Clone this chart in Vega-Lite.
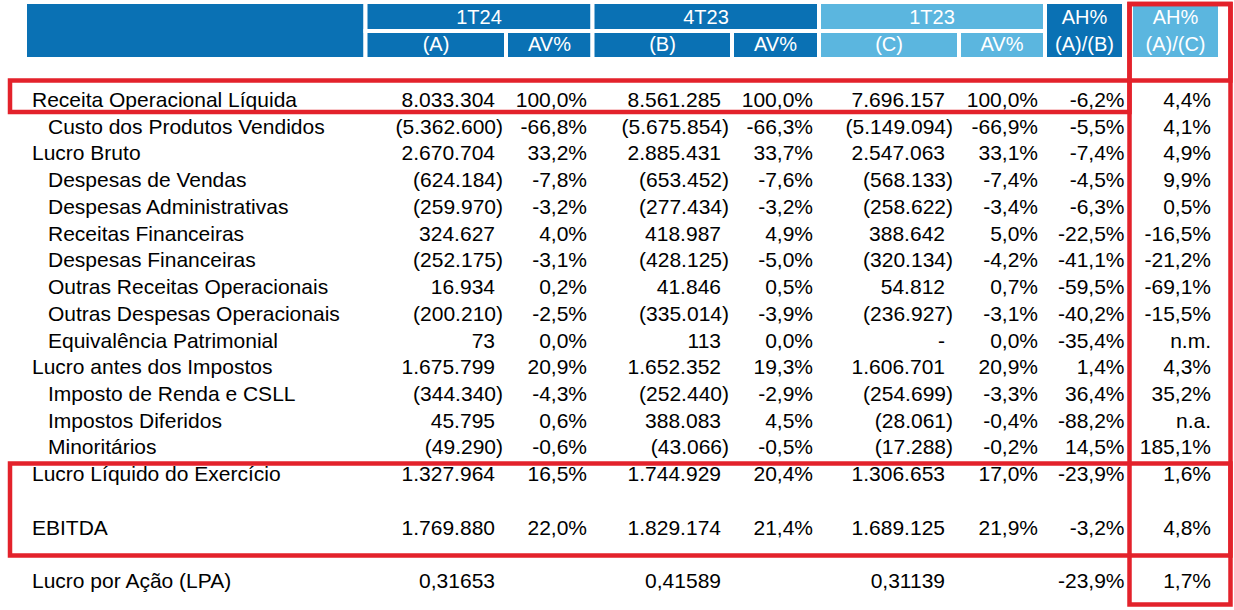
{
  "$schema": "https://vega.github.io/schema/vega-lite/v6.json",
  "width": 1234,
  "height": 610,
  "padding": 0,
  "autosize": {"type": "none"},
  "background": "white",
  "config": {"view": {"stroke": null}, "text": {"font": "Liberation Sans"}},
  "datasets": {
    "rows": [
      {"row": 0, "level": 0, "label": "Receita Operacional Líquida", "A": "8.033.304", "AVA": "100,0%", "B": "8.561.285", "AVB": "100,0%", "C": "7.696.157", "AVC": "100,0%", "AHAB": "-6,2%", "AHAC": "4,4%"},
      {"row": 1, "level": 1, "label": "Custo dos Produtos Vendidos", "A": "(5.362.600)", "AVA": "-66,8%", "B": "(5.675.854)", "AVB": "-66,3%", "C": "(5.149.094)", "AVC": "-66,9%", "AHAB": "-5,5%", "AHAC": "4,1%"},
      {"row": 2, "level": 0, "label": "Lucro Bruto", "A": "2.670.704", "AVA": "33,2%", "B": "2.885.431", "AVB": "33,7%", "C": "2.547.063", "AVC": "33,1%", "AHAB": "-7,4%", "AHAC": "4,9%"},
      {"row": 3, "level": 1, "label": "Despesas de Vendas", "A": "(624.184)", "AVA": "-7,8%", "B": "(653.452)", "AVB": "-7,6%", "C": "(568.133)", "AVC": "-7,4%", "AHAB": "-4,5%", "AHAC": "9,9%"},
      {"row": 4, "level": 1, "label": "Despesas Administrativas", "A": "(259.970)", "AVA": "-3,2%", "B": "(277.434)", "AVB": "-3,2%", "C": "(258.622)", "AVC": "-3,4%", "AHAB": "-6,3%", "AHAC": "0,5%"},
      {"row": 5, "level": 1, "label": "Receitas Financeiras", "A": "324.627", "AVA": "4,0%", "B": "418.987", "AVB": "4,9%", "C": "388.642", "AVC": "5,0%", "AHAB": "-22,5%", "AHAC": "-16,5%"},
      {"row": 6, "level": 1, "label": "Despesas Financeiras", "A": "(252.175)", "AVA": "-3,1%", "B": "(428.125)", "AVB": "-5,0%", "C": "(320.134)", "AVC": "-4,2%", "AHAB": "-41,1%", "AHAC": "-21,2%"},
      {"row": 7, "level": 1, "label": "Outras Receitas Operacionais", "A": "16.934", "AVA": "0,2%", "B": "41.846", "AVB": "0,5%", "C": "54.812", "AVC": "0,7%", "AHAB": "-59,5%", "AHAC": "-69,1%"},
      {"row": 8, "level": 1, "label": "Outras Despesas Operacionais", "A": "(200.210)", "AVA": "-2,5%", "B": "(335.014)", "AVB": "-3,9%", "C": "(236.927)", "AVC": "-3,1%", "AHAB": "-40,2%", "AHAC": "-15,5%"},
      {"row": 9, "level": 1, "label": "Equivalência Patrimonial", "A": "73", "AVA": "0,0%", "B": "113", "AVB": "0,0%", "C": "-", "AVC": "0,0%", "AHAB": "-35,4%", "AHAC": "n.m."},
      {"row": 10, "level": 0, "label": "Lucro antes dos Impostos", "A": "1.675.799", "AVA": "20,9%", "B": "1.652.352", "AVB": "19,3%", "C": "1.606.701", "AVC": "20,9%", "AHAB": "1,4%", "AHAC": "4,3%"},
      {"row": 11, "level": 1, "label": "Imposto de Renda e CSLL", "A": "(344.340)", "AVA": "-4,3%", "B": "(252.440)", "AVB": "-2,9%", "C": "(254.699)", "AVC": "-3,3%", "AHAB": "36,4%", "AHAC": "35,2%"},
      {"row": 12, "level": 1, "label": "Impostos Diferidos", "A": "45.795", "AVA": "0,6%", "B": "388.083", "AVB": "4,5%", "C": "(28.061)", "AVC": "-0,4%", "AHAB": "-88,2%", "AHAC": "n.a."},
      {"row": 13, "level": 1, "label": "Minoritários", "A": "(49.290)", "AVA": "-0,6%", "B": "(43.066)", "AVB": "-0,5%", "C": "(17.288)", "AVC": "-0,2%", "AHAB": "14,5%", "AHAC": "185,1%"},
      {"row": 14, "level": 0, "label": "Lucro Líquido do Exercício", "A": "1.327.964", "AVA": "16,5%", "B": "1.744.929", "AVB": "20,4%", "C": "1.306.653", "AVC": "17,0%", "AHAB": "-23,9%", "AHAC": "1,6%"},
      {"row": 16, "level": 0, "label": "EBITDA", "A": "1.769.880", "AVA": "22,0%", "B": "1.829.174", "AVB": "21,4%", "C": "1.689.125", "AVC": "21,9%", "AHAB": "-3,2%", "AHAC": "4,8%"},
      {"row": 18, "level": 0, "label": "Lucro por Ação (LPA)", "A": "0,31653", "AVA": "", "B": "0,41589", "AVB": "", "C": "0,31139", "AVC": "", "AHAB": "-23,9%", "AHAC": "1,7%"}
    ],
    "cols": [
      {"key": "A", "col": 1}, {"key": "AVA", "col": 2}, {"key": "B", "col": 3}, {"key": "AVB", "col": 4},
      {"key": "C", "col": 5}, {"key": "AVC", "col": 6}, {"key": "AHAB", "col": 7}, {"key": "AHAC", "col": 8}
    ],
    "hcells": [
      {"c0": 0, "c1": 1, "r0": 0, "r1": 2, "tone": "dark"},
      {"c0": 1, "c1": 3, "r0": 0, "r1": 1, "tone": "dark"},
      {"c0": 1, "c1": 2, "r0": 1, "r1": 2, "tone": "dark"},
      {"c0": 2, "c1": 3, "r0": 1, "r1": 2, "tone": "dark"},
      {"c0": 3, "c1": 5, "r0": 0, "r1": 1, "tone": "dark"},
      {"c0": 3, "c1": 4, "r0": 1, "r1": 2, "tone": "dark"},
      {"c0": 4, "c1": 5, "r0": 1, "r1": 2, "tone": "dark"},
      {"c0": 5, "c1": 7, "r0": 0, "r1": 1, "tone": "light"},
      {"c0": 5, "c1": 6, "r0": 1, "r1": 2, "tone": "light"},
      {"c0": 6, "c1": 7, "r0": 1, "r1": 2, "tone": "light"},
      {"c0": 7, "c1": 8, "r0": 0, "r1": 2, "tone": "dark"},
      {"c0": 9, "c1": 10, "r0": 0, "r1": 2, "tone": "light"}
    ],
    "groups": [
      {"g": 1, "hr": 1, "t": "1T24"},
      {"g": 2, "hr": 1, "t": "4T23"},
      {"g": 3, "hr": 1, "t": "1T23"}
    ],
    "subheads": [
      {"c": 1, "hr": 2, "t": "(A)"},
      {"c": 2, "hr": 2, "t": "AV%"},
      {"c": 3, "hr": 2, "t": "(B)"},
      {"c": 4, "hr": 2, "t": "AV%"},
      {"c": 5, "hr": 2, "t": "(C)"},
      {"c": 6, "hr": 2, "t": "AV%"},
      {"c": 7, "hr": 1, "t": "AH%"},
      {"c": 7, "hr": 2, "t": "(A)/(B)"},
      {"c": 8, "hr": 1, "t": "AH%"},
      {"c": 8, "hr": 2, "t": "(A)/(C)"}
    ],
    "boxes": [
      {"b0": 0, "b1": 1, "v0": 1, "v1": 2},
      {"b0": 1, "b1": 2, "v0": 0, "v1": 5},
      {"b0": 1, "b1": 2, "v0": 0, "v1": 1},
      {"b0": 0, "b1": 2, "v0": 3, "v1": 4}
    ]
  },
  "resolve": {"scale": {"x": "independent", "y": "independent", "color": "independent"}},
  "layer": [
    {
      "data": {"name": "hcells"},
      "mark": {"type": "rect", "stroke": "white", "strokeWidth": 4},
      "encoding": {
        "x": {"field": "c0", "type": "quantitative", "axis": null,
              "scale": {"domain": [0, 1, 2, 3, 4, 5, 6, 7, 8, 9, 10], "range": [25, 365.5, 506, 592.5, 732, 819, 959, 1045, 1124, 1131, 1220], "nice": false, "zero": false}},
        "x2": {"field": "c1"},
        "y": {"field": "r0", "type": "quantitative", "axis": null,
              "scale": {"domain": [0, 1, 2], "range": [2, 31, 59], "nice": false, "zero": false}},
        "y2": {"field": "r1"},
        "color": {"field": "tone", "type": "nominal", "legend": null,
                  "scale": {"domain": ["dark", "light"], "range": ["#0a71b4", "#5bb6df"]}}
      }
    },
    {
      "data": {"name": "groups"},
      "mark": {"type": "text", "align": "center", "baseline": "middle", "fontSize": 20, "color": "white"},
      "encoding": {
        "x": {"field": "g", "type": "quantitative", "axis": null,
              "scale": {"domain": [1, 2, 3], "range": [479, 706, 932], "nice": false, "zero": false}},
        "y": {"field": "hr", "type": "quantitative", "axis": null,
              "scale": {"domain": [1, 2], "range": [17.5, 45], "nice": false, "zero": false}},
        "text": {"field": "t"}
      }
    },
    {
      "data": {"name": "subheads"},
      "mark": {"type": "text", "align": "center", "baseline": "middle", "fontSize": 20, "color": "white"},
      "encoding": {
        "x": {"field": "c", "type": "quantitative", "axis": null,
              "scale": {"domain": [1, 2, 3, 4, 5, 6, 7, 8], "range": [436, 549.5, 662.5, 775.5, 889, 1002, 1084.5, 1175.5], "nice": false, "zero": false}},
        "y": {"field": "hr", "type": "quantitative", "axis": null,
              "scale": {"domain": [1, 2], "range": [17.5, 45], "nice": false, "zero": false}},
        "text": {"field": "t"}
      }
    },
    {
      "data": {"name": "rows"},
      "mark": {"type": "text", "align": "left", "baseline": "middle", "fontSize": 21, "color": "#000000"},
      "encoding": {
        "x": {"field": "level", "type": "quantitative", "axis": null,
              "scale": {"domain": [0, 1], "range": [32, 48], "nice": false, "zero": false}},
        "y": {"field": "row", "type": "quantitative", "axis": null,
              "scale": {"domain": [0, 18], "range": [101, 582], "nice": false, "zero": false}},
        "text": {"field": "label"}
      }
    },
    {
      "data": {"name": "rows"},
      "transform": [
        {"fold": ["A", "AVA", "B", "AVB", "C", "AVC", "AHAB", "AHAC"], "as": ["key", "value"]},
        {"filter": "isValid(datum.value) && datum.value !== '' && substring(datum.value, 0, 1) !== '('"},
        {"lookup": "key", "from": {"data": {"name": "cols"}, "key": "key", "fields": ["col"]}}
      ],
      "mark": {"type": "text", "align": "right", "baseline": "middle", "fontSize": 21, "color": "#000000"},
      "encoding": {
        "x": {"field": "col", "type": "quantitative", "axis": null,
              "scale": {"domain": [1, 2, 3, 4, 5, 6, 7, 8], "range": [495, 587, 721, 813, 945, 1038, 1124.5, 1211], "nice": false, "zero": false}},
        "y": {"field": "row", "type": "quantitative", "axis": null,
              "scale": {"domain": [0, 18], "range": [101, 582], "nice": false, "zero": false}},
        "text": {"field": "value"}
      }
    },
    {
      "data": {"name": "rows"},
      "transform": [
        {"fold": ["A", "AVA", "B", "AVB", "C", "AVC", "AHAB", "AHAC"], "as": ["key", "value"]},
        {"filter": "isValid(datum.value) && substring(datum.value, 0, 1) === '('"},
        {"lookup": "key", "from": {"data": {"name": "cols"}, "key": "key", "fields": ["col"]}}
      ],
      "mark": {"type": "text", "align": "right", "baseline": "middle", "fontSize": 21, "color": "#000000", "dx": 8},
      "encoding": {
        "x": {"field": "col", "type": "quantitative", "axis": null,
              "scale": {"domain": [1, 2, 3, 4, 5, 6, 7, 8], "range": [495, 587, 721, 813, 945, 1038, 1124.5, 1211], "nice": false, "zero": false}},
        "y": {"field": "row", "type": "quantitative", "axis": null,
              "scale": {"domain": [0, 18], "range": [101, 582], "nice": false, "zero": false}},
        "text": {"field": "value"}
      }
    },
    {
      "data": {"name": "boxes"},
      "mark": {"type": "rect", "fill": "white", "fillOpacity": 0, "stroke": "#e3222b", "strokeWidth": 4.5},
      "encoding": {
        "x": {"field": "b0", "type": "quantitative", "axis": null,
              "scale": {"domain": [0, 1, 2], "range": [10, 1129.5, 1230.5], "nice": false, "zero": false}},
        "x2": {"field": "b1"},
        "y": {"field": "v0", "type": "quantitative", "axis": null,
              "scale": {"domain": [0, 1, 2, 3, 4, 5], "range": [4, 80.5, 112, 463.5, 555.5, 604.5], "nice": false, "zero": false}},
        "y2": {"field": "v1"}
      }
    }
  ]
}
